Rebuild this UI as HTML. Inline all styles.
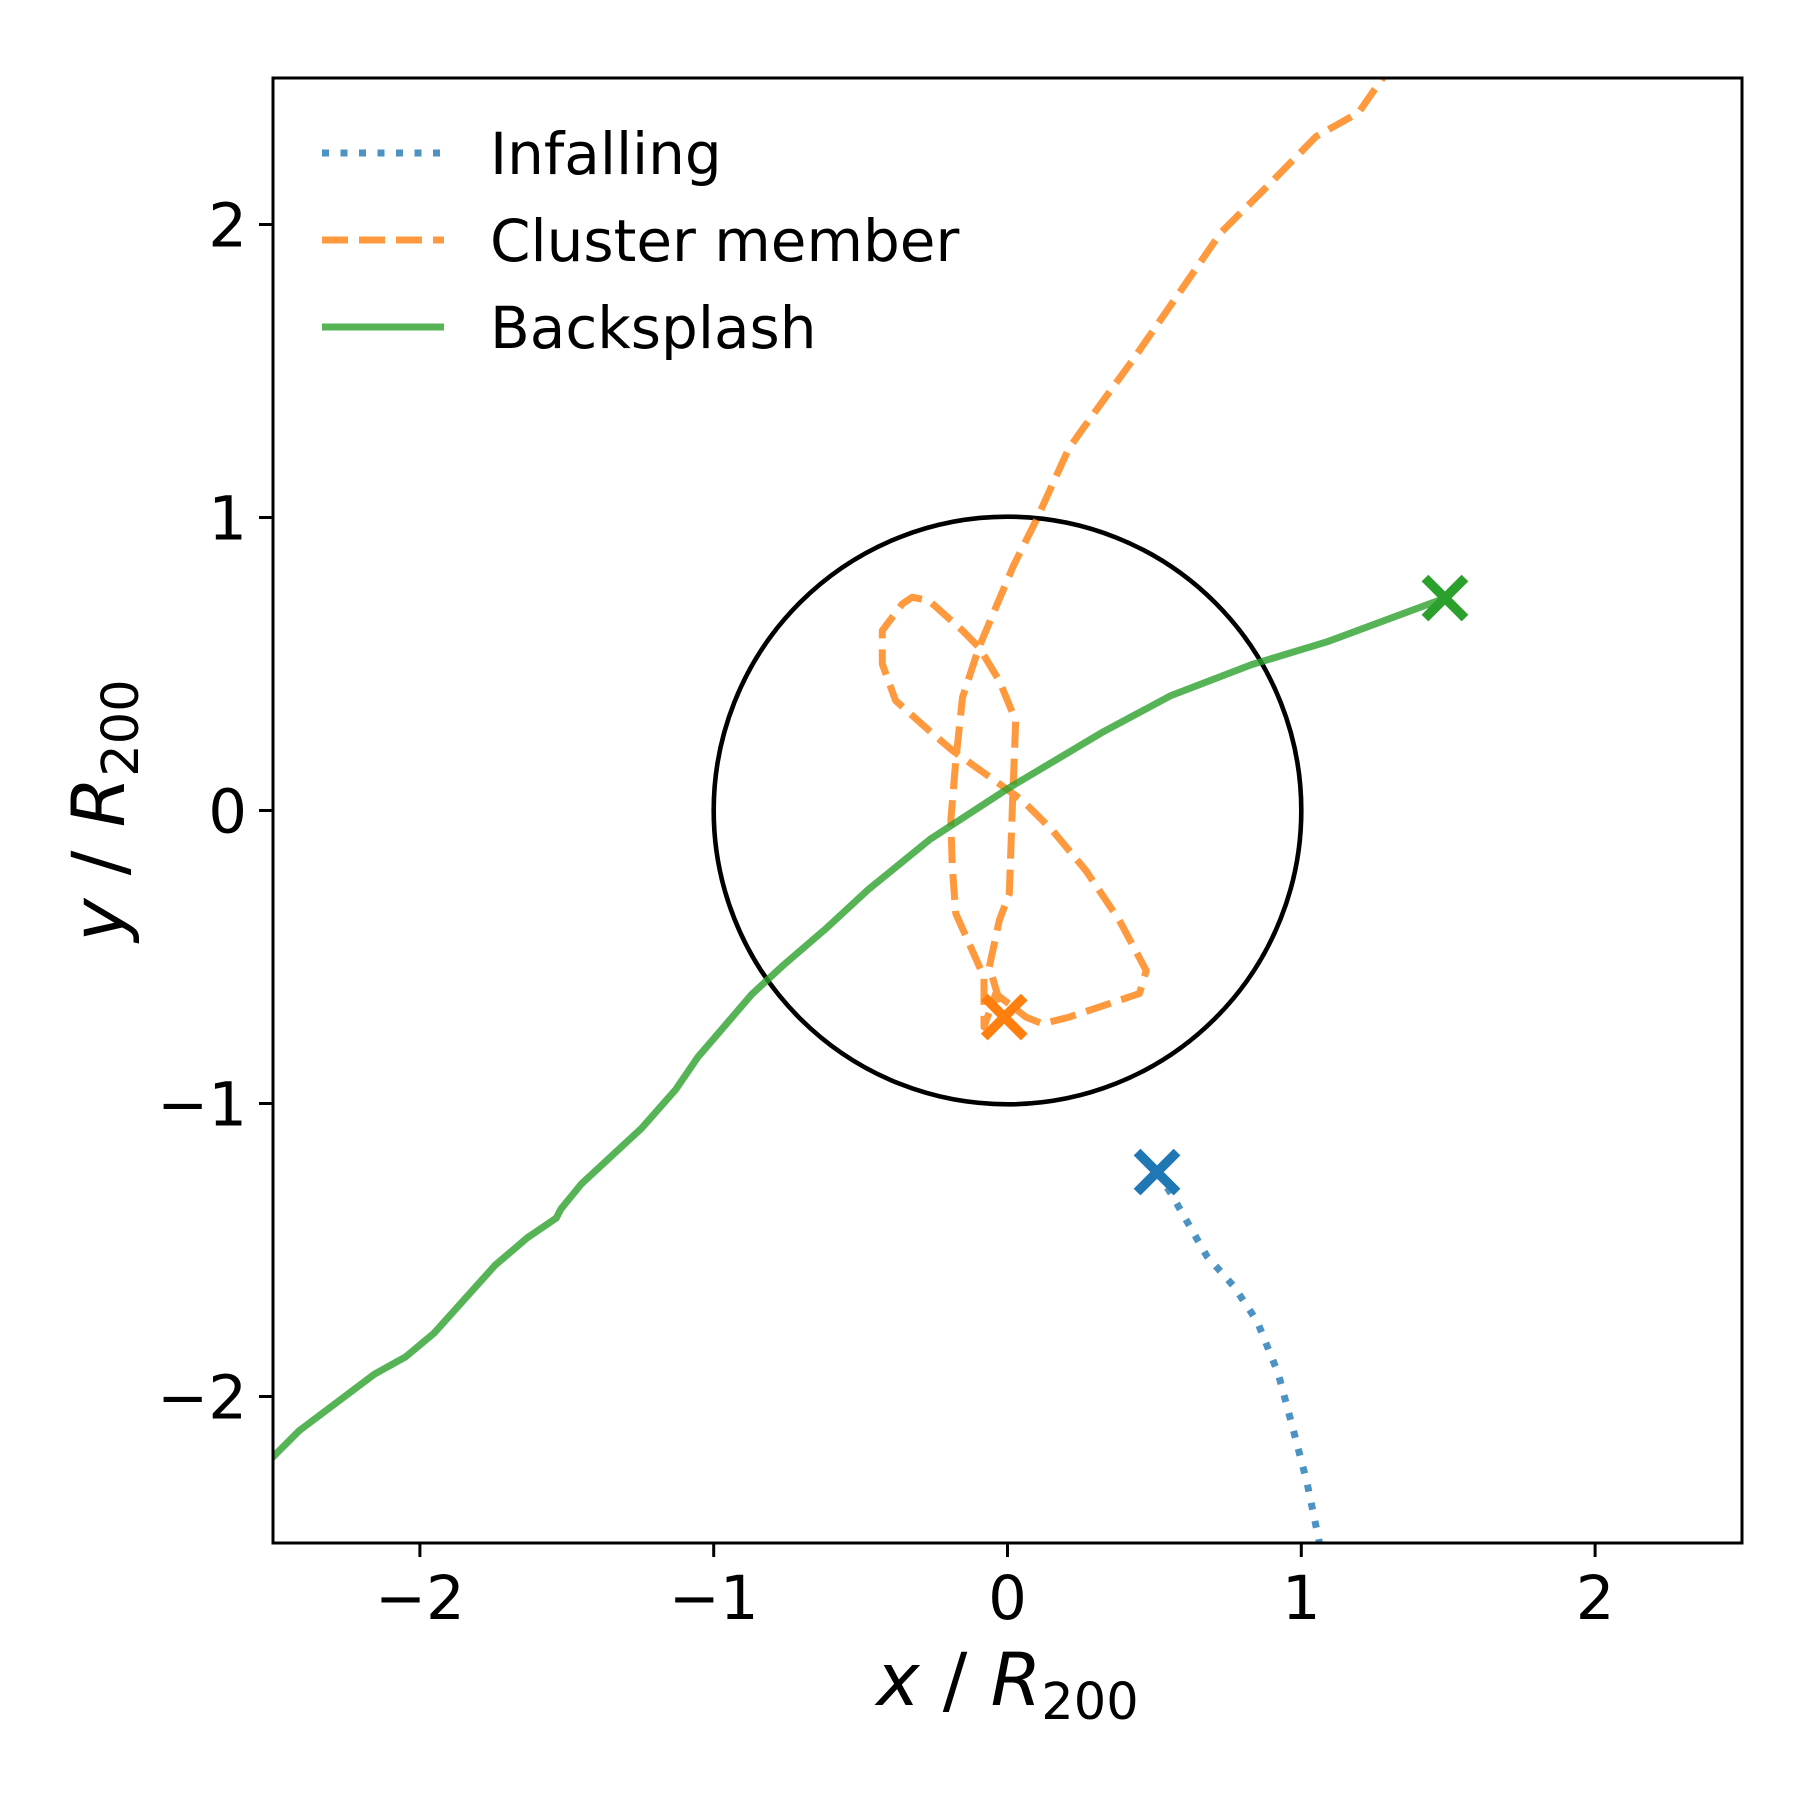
<!DOCTYPE html>
<html><head><meta charset="utf-8"><style>
html,body{margin:0;padding:0;background:#fff}
svg text{font-family:"DejaVu Sans","Liberation Sans",sans-serif;fill:#000}
</style></head><body>
<svg id="chart" xmlns="http://www.w3.org/2000/svg" width="1800" height="1800" viewBox="0 0 1800 1800">
<defs><clipPath id="plotclip"><rect x="273" y="78" width="1469" height="1465"/></clipPath></defs>
<rect x="0" y="0" width="1800" height="1800" fill="#fff"/>
<g id="plot" clip-path="url(#plotclip)"></g>
<g id="axes"></g>
</svg>
<script>
const xTicks=[-2,-1,0,1,2];
const yTicks=[-2,-1,0,1,2];
const tickLabels=["\u22122","\u22121","0","1","2"];
const infallX=[0.509,0.56,0.678,0.772,0.85,0.921,0.968,1.019,1.062,1.08];
const infallY=[-1.234,-1.313,-1.52,-1.626,-1.744,-1.92,-2.096,-2.292,-2.5,-2.6];
const memberX=[1.33,1.274,1.195,1.050,0.882,0.725,0.607,0.431,0.255,0.208,0.098,0.020,-0.097,-0.153,-0.176,-0.193,-0.188,-0.176,-0.080,-0.080,-0.040,0.063,0.119,0.210,0.449,0.472,0.381,0.267,0.153,0.051,-0.028,-0.188,-0.267,-0.381,-0.426,-0.426,-0.358,-0.324,-0.267,-0.153,-0.097,-0.028,0.028,0.017,0.006,-0.028,-0.062,-0.011];
const memberY=[2.56,2.496,2.382,2.300,2.128,1.971,1.799,1.544,1.301,1.234,0.991,0.835,0.557,0.386,0.171,-0.034,-0.193,-0.352,-0.568,-0.739,-0.625,-0.705,-0.728,-0.705,-0.625,-0.546,-0.375,-0.205,-0.068,0.034,0.091,0.205,0.273,0.375,0.500,0.614,0.705,0.728,0.716,0.614,0.557,0.443,0.307,0.023,-0.284,-0.375,-0.534,-0.705];
const backX=[-2.6,-2.5,-2.41,-2.155,-2.049,-1.951,-1.744,-1.634,-1.536,-1.520,-1.450,-1.246,-1.129,-1.054,-0.870,-0.764,-0.619,-0.474,-0.263,0,0.321,0.556,0.831,1.089,1.489];
const backY=[-2.29,-2.206,-2.116,-1.924,-1.865,-1.783,-1.552,-1.458,-1.391,-1.360,-1.274,-1.085,-0.952,-0.842,-0.627,-0.529,-0.404,-0.270,-0.098,0.074,0.266,0.392,0.498,0.576,0.725];
const endX=[0.509,-0.011,1.489];
const endY=[-1.234,-0.705,0.725];

const NS="http://www.w3.org/2000/svg";
const L=273,R=1742,T=78,B=1543;
const sx=v=>L+(v+2.5)/5*(R-L);
const sy=v=>B-(v+2.5)/5*(B-T);
function mk(tag,attrs,parent){const e=document.createElementNS(NS,tag);for(const k in attrs)e.setAttribute(k,attrs[k]);parent.appendChild(e);return e;}
const plot=document.getElementById('plot'),axes=document.getElementById('axes');

const circ=mk('circle',{cx:sx(0),cy:sy(0),r:sx(1)-sx(0),fill:'none',stroke:'#000','stroke-width':4.6},plot);



function line(xs,ys,color,dash,cap,name){
  const d=xs.map((x,i)=>(i?'L':'M')+sx(x).toFixed(1)+','+sy(ys[i]).toFixed(1)).join('');
  const p=mk('path',{d:d,fill:'none',stroke:color,'stroke-opacity':0.8,'stroke-width':7,'stroke-dasharray':dash,'stroke-linecap':cap,'stroke-linejoin':'round'},plot);
  
  
}
line(infallX,infallY,'#1f77b4','7 11.5','butt','infalling-line');
line(memberX,memberY,'#ff7f0e','26 11','butt','cluster-member-line');
line(backX,backY,'#2ca02c','none','butt','backsplash-line');

const mcolors=['#1f77b4','#ff7f0e','#2ca02c'];
const mnames=['infalling-end-marker','cluster-member-end-marker','backsplash-end-marker'];
endX.forEach((x,i)=>{
  const cx=sx(x),cy=sy(endY[i]),h=20;
  const p=mk('path',{d:`M${cx-h},${cy-h}L${cx+h},${cy+h}M${cx-h},${cy+h}L${cx+h},${cy-h}`,stroke:mcolors[i],'stroke-width':9.5,fill:'none'},plot);
  
  
});

const frame=mk('rect',{x:L,y:T,width:R-L,height:B-T,fill:'none',stroke:'#000','stroke-width':3},axes);



xTicks.forEach((v,i)=>{
  const t=mk('line',{x1:sx(v),x2:sx(v),y1:B,y2:B+14,stroke:'#000','stroke-width':3},axes);
  
  
  const tx=mk('text',{x:sx(v),y:1619,'font-size':61,'text-anchor':'middle'},axes);
  tx.textContent=tickLabels[i];
  
  
});
yTicks.forEach((v,i)=>{
  const t=mk('line',{x1:L-14,x2:L,y1:sy(v),y2:sy(v),stroke:'#000','stroke-width':3},axes);
  
  
  const tx=mk('text',{x:L-26,y:sy(v)+22,'font-size':61,'text-anchor':'end'},axes);
  tx.textContent=tickLabels[i];
  
  
});

const xl=mk('text',{x:sx(0),y:1705,'font-size':73,'text-anchor':'middle'},axes);
xl.innerHTML='<tspan font-style="italic">x</tspan> / <tspan font-style="italic">R</tspan><tspan font-size="51" dy="14">200</tspan>';


const yl=mk('text',{x:0,y:0,'font-size':73,'text-anchor':'middle',transform:`translate(124,${sy(0)}) rotate(-90)`},axes);
yl.innerHTML='<tspan font-style="italic">y</tspan> / <tspan font-style="italic">R</tspan><tspan font-size="51" dy="14">200</tspan>';



const leg=[['Infalling','#1f77b4','7 11.5',153],['Cluster member','#ff7f0e','26 11',240],['Backsplash','#2ca02c','none',327]];
const lg=mk('g',{},axes);


leg.forEach(e=>{
  const l=mk('line',{x1:322,x2:444,y1:e[3],y2:e[3],stroke:e[1],'stroke-opacity':0.8,'stroke-width':7,'stroke-dasharray':e[2]},lg);
  
  
  const t=mk('text',{x:490,y:e[3]+21,'font-size':58},lg);
  t.textContent=e[0];
  
  
});
</script>
</body></html>
